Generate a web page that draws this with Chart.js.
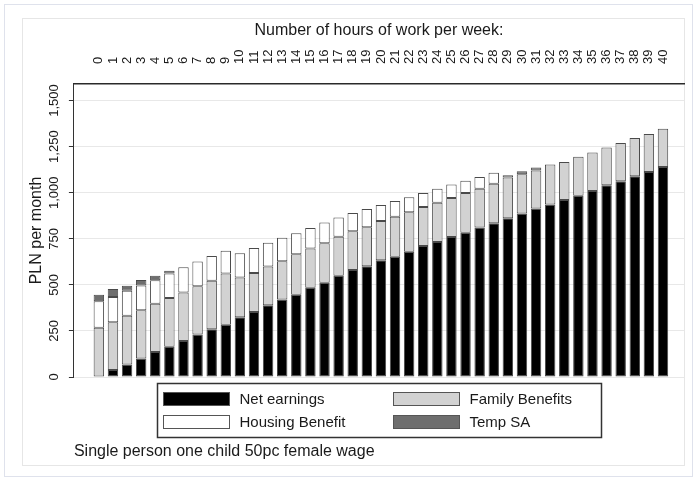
<!DOCTYPE html>
<html>
<head>
<meta charset="utf-8">
<script src="https://cdn.jsdelivr.net/npm/chart.js@4/dist/chart.umd.min.js"></script>
<style>
html,body{margin:0;padding:0;background:#fff;}
#wrap{position:relative;width:697px;height:479px;}
canvas{display:block;}
</style>
</head>
<body>
<div id="wrap"><canvas id="c" width="697" height="479"></canvas></div>
<script>
// ---- data ----
const hours = [0,1,2,3,4,5,6,7,8,9,10,11,12,13,14,15,16,17,18,19,20,21,22,23,24,25,26,27,28,29,30,31,32,33,34,35,36,37,38,39,40];
const netEarnings = [0,38,68,100,135,164,195,230,259,284,324,353,389,420,447,485,511,549,580,601,633,653,680,711,733,760,783,811,835,862,887,914,936,960,983,1010,1040,1062,1090,1112,1139];
const familyBenefits = [267,259,265,262,262,265,264,262,263,278,216,211,211,208,219,212,215,212,211,211,214,217,214,212,212,212,216,211,214,221,213,207,217,207,212,208,206,208,207,206,208];
const housingBenefit = [144,137,135,135,128,133,137,135,135,123,131,136,129,128,114,112,112,104,99,99,86,85,81,76,77,72,66,63,59,12,0,0,0,0,0,0,0,0,0,0,0];
const tempSA = [36,43,27,30,25,14,0,0,0,0,0,0,0,0,0,0,0,0,0,0,0,0,0,0,0,0,0,0,0,0,17,16,0,0,0,0,0,0,0,0,0];
const seriesNames = ['Net earnings','Family Benefits','Housing Benefit','Temp SA'];
const seriesColors = ['#000000','#d2d2d2','#ffffff','#6e6e6e'];
const yTickValues = [0,250,500,750,1000,1250,1500];
const xTitle = 'Number of hours of work per week:';
const yTitle = 'PLN per month';
const note = 'Single person one child 50pc female wage';

const FONT = "'Liberation Sans', Arial, Helvetica, sans-serif";
Chart.defaults.font.family = FONT;
Chart.defaults.color = '#1a1a1a';

const X_TICK_SIZE = 13;

const seriesValues = [netEarnings, familyBenefits, housingBenefit, tempSA];
const datasets = seriesValues.map((vals, k) => ({
  label: seriesNames[k],
  data: hours.map((h, i) => ({x: h, y: vals[i]})),
  backgroundColor: seriesColors[k],
  borderColor: '#4a4a4a',
  borderWidth: 1,
  borderSkipped: false,
  barPercentage: 0.74,
  categoryPercentage: 1.0
}));

const framePlugin = {
  id: 'frames',
  beforeDraw(chart) {
    const ctx = chart.ctx;
    ctx.save();
    ctx.fillStyle = '#ffffff';
    ctx.fillRect(0, 0, chart.width, chart.height);
    ctx.strokeStyle = '#dfe2ec';
    ctx.lineWidth = 1;
    ctx.strokeRect(4.5, 4.5, chart.width - 9, chart.height - 7);
    ctx.strokeStyle = '#e6e6e6';
    ctx.strokeRect(22.5, 18.5, chart.width - 35, chart.height - 32);
    ctx.restore();
  }
};

const legendBoxPlugin = {
  id: 'legendBox',
  afterDraw(chart) {
    const ctx = chart.ctx;
    const ca = chart.chartArea;
    const cx = (ca.left + ca.right) / 2;
    const bw = 444, bh = 54;
    const bx = Math.round(cx - bw / 2) + 0.5, by = Math.round(ca.bottom + 6) + 0.5;
    ctx.save();
    ctx.fillStyle = '#ffffff';
    ctx.fillRect(bx, by, bw, bh);
    ctx.strokeStyle = '#333333';
    ctx.lineWidth = 1.5;
    ctx.strokeRect(bx, by, bw, bh);
    ctx.font = '15px ' + FONT;
    ctx.textBaseline = 'middle';
    ctx.textAlign = 'left';
    chart.data.datasets.forEach((ds, i) => {
      const col = i % 2, row = Math.floor(i / 2);
      const sx = bx + 6 + col * 230;
      const sy = by + 9 + row * 23;
      ctx.fillStyle = ds.backgroundColor;
      ctx.fillRect(sx, sy, 66, 13);
      ctx.strokeStyle = '#555555';
      ctx.lineWidth = 1;
      ctx.strokeRect(sx, sy, 66, 13);
      ctx.fillStyle = '#1a1a1a';
      ctx.fillText(ds.label, sx + 76, sy + 7);
    });
    ctx.restore();
  }
};

new Chart(document.getElementById('c'), {
  type: 'bar',
  data: { datasets },
  plugins: [framePlugin, legendBoxPlugin],
  options: {
    responsive: false,
    animation: false,
    layout: { padding: { left: 22, top: 18, right: 13, bottom: 14 } },
    plugins: {
      legend: { display: false },
      tooltip: { enabled: false },
      subtitle: {
        display: true,
        text: note,
        position: 'bottom',
        align: 'start',
        fullSize: false,
        color: '#1a1a1a',
        font: { size: 16, weight: 'normal' },
        padding: { top: 65.4, bottom: 3.4 }
      }
    },
    scales: {
      x: {
        type: 'linear',
        position: 'top',
        stacked: true,
        offset: false,
        min: -1.77,
        max: 41.49,
        afterBuildTicks: s => { s.ticks = hours.map(h => ({ value: h })); },
        afterFit: s => { s.height = 66; },
        ticks: {
          autoSkip: false,
          minRotation: 90,
          maxRotation: 90,
          padding: 20,
          labelOffset: X_TICK_SIZE * 1.2,
          color: '#1a1a1a',
          font: { size: X_TICK_SIZE },
          callback: v => String(v)
        },
        grid: { display: false, drawTicks: false, offset: false },
        border: { display: true, color: '#2a2a2a', width: 1.5 },
        title: {
          display: true,
          text: xTitle,
          color: '#1a1a1a',
          font: { size: 16 },
          padding: { top: 3, bottom: 10.5 }
        }
      },
      y: {
        stacked: true,
        min: 0,
        max: 1590,
        afterBuildTicks: s => { s.ticks = yTickValues.map(v => ({ value: v })); },
        ticks: {
          minRotation: 90,
          maxRotation: 90,
          crossAlign: 'center',
          padding: -2,
          color: '#1a1a1a',
          font: { size: 13 },
          callback: v => Number(v).toLocaleString('en-US')
        },
        grid: { color: '#e8e8e8', tickColor: '#333333', tickLength: 5, lineWidth: 1 },
        border: { display: true, color: '#333333', width: 1 },
        title: {
          display: true,
          text: yTitle,
          color: '#1a1a1a',
          font: { size: 16 },
          padding: { top: 4.6, bottom: 11.5 }
        }
      }
    }
  }
});
</script>
</body>
</html>
